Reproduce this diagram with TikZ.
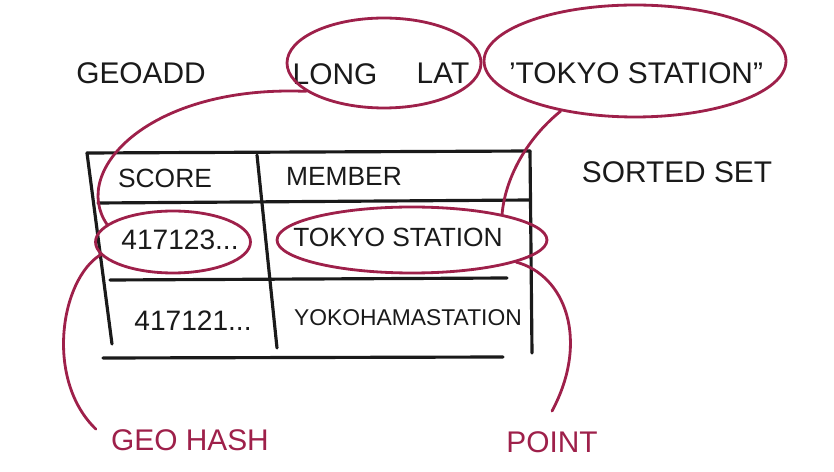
\documentclass[tikz,border=0pt]{standalone}
\usepackage{fontspec}
\setmainfont{Liberation Sans}
\usepackage{tikz}
\usetikzlibrary{shapes.geometric, positioning}
\definecolor{ink}{RGB}{26,26,26}
\definecolor{marker}{RGB}{158,32,74}
\tikzset{
	word/.style={font=\fontsize{17}{20}\selectfont, text=ink, inner sep=0pt},
	cell/.style={font=\fontsize{15}{18}\selectfont, text=ink, inner sep=0pt},
	note/.style={font=\fontsize{17}{20}\selectfont, text=marker, inner sep=0pt},
	ring/.style={ellipse, draw=marker, line width=1.6pt, inner sep=0pt},
	grid/.style={draw=ink, line width=1.8pt, line cap=round},
	lead/.style={draw=marker, line width=1.6pt, line cap=round},
}

\begin{document}
\begin{tikzpicture}[x=0.02cm, y=-0.02cm]
	\useasboundingbox (0,0) rectangle (834,472);
	% command line
	\node[word] (geoadd) at (141,73) {GEOADD};
	\node[word] (long) at (335,74) {LONG};
	\node[word] (lat) at (443,73) {LAT};
	\node[word] (name) at (636,73) {'TOKYO STATION"};
	\node[word] (sorted) at (677,172) {SORTED SET};
	\node[ring, minimum width=3.88cm, minimum height=1.8cm] (coordring) at (384,63) {};
	\node[ring, minimum width=6.04cm, minimum height=2.24cm] (namering) at (635,61) {};
	
	% table
	\draw[grid] (87,153) -- (530,151);
	\draw[grid] (98,203) -- (530,200);
	\draw[grid] (110,280) -- (507,278);
	\draw[grid] (103,358) -- (503,357);
	\draw[grid] (87,153) -- (112,344);
	\draw[grid] (257,155) -- (277,348);
	\draw[grid] (530,151) -- (532,353);
	\node[cell] (score) at (165,178) {SCORE};
	\node[cell] (member) at (344,176) {MEMBER};
	\node[cell, font=\fontsize{16}{19}\selectfont] (hash1) at (180,240) {417123...};
	\node[cell] (tokyo) at (398,237) {TOKYO STATION};
	\node[cell, font=\fontsize{16}{19}\selectfont] (hash2) at (193,321) {417121...};
	\node[cell, font=\fontsize{13}{16}\selectfont] (yokohama) at (408,318) {YOKOHAMASTATION};
	\node[ring, minimum width=3.1cm, minimum height=1.24cm] (hashring) at (173,242) {};
	\node[ring, minimum width=5.4cm, minimum height=1.32cm] (tokyoring) at (412,240) {};
	
	% notes
	\node[note] (geohash) at (190,440) {GEO HASH};
	\node[note] (point) at (552,442) {POINT};
	
	\draw[lead] (coordring.200) .. controls (150,85) and (70,170) .. (hashring.165);
	\draw[lead] (namering.214) .. controls (525,140) and (505,180) .. (tokyoring.16);
	\draw[lead] (hashring.190) .. controls (60,280) and (45,380) .. ([xshift=-0.3cm]geohash.north west);
	\draw[lead] (tokyoring.-12) .. controls (565,275) and (590,340) .. ([yshift=0.4cm]point.north);
\end{tikzpicture}
\end{document}
